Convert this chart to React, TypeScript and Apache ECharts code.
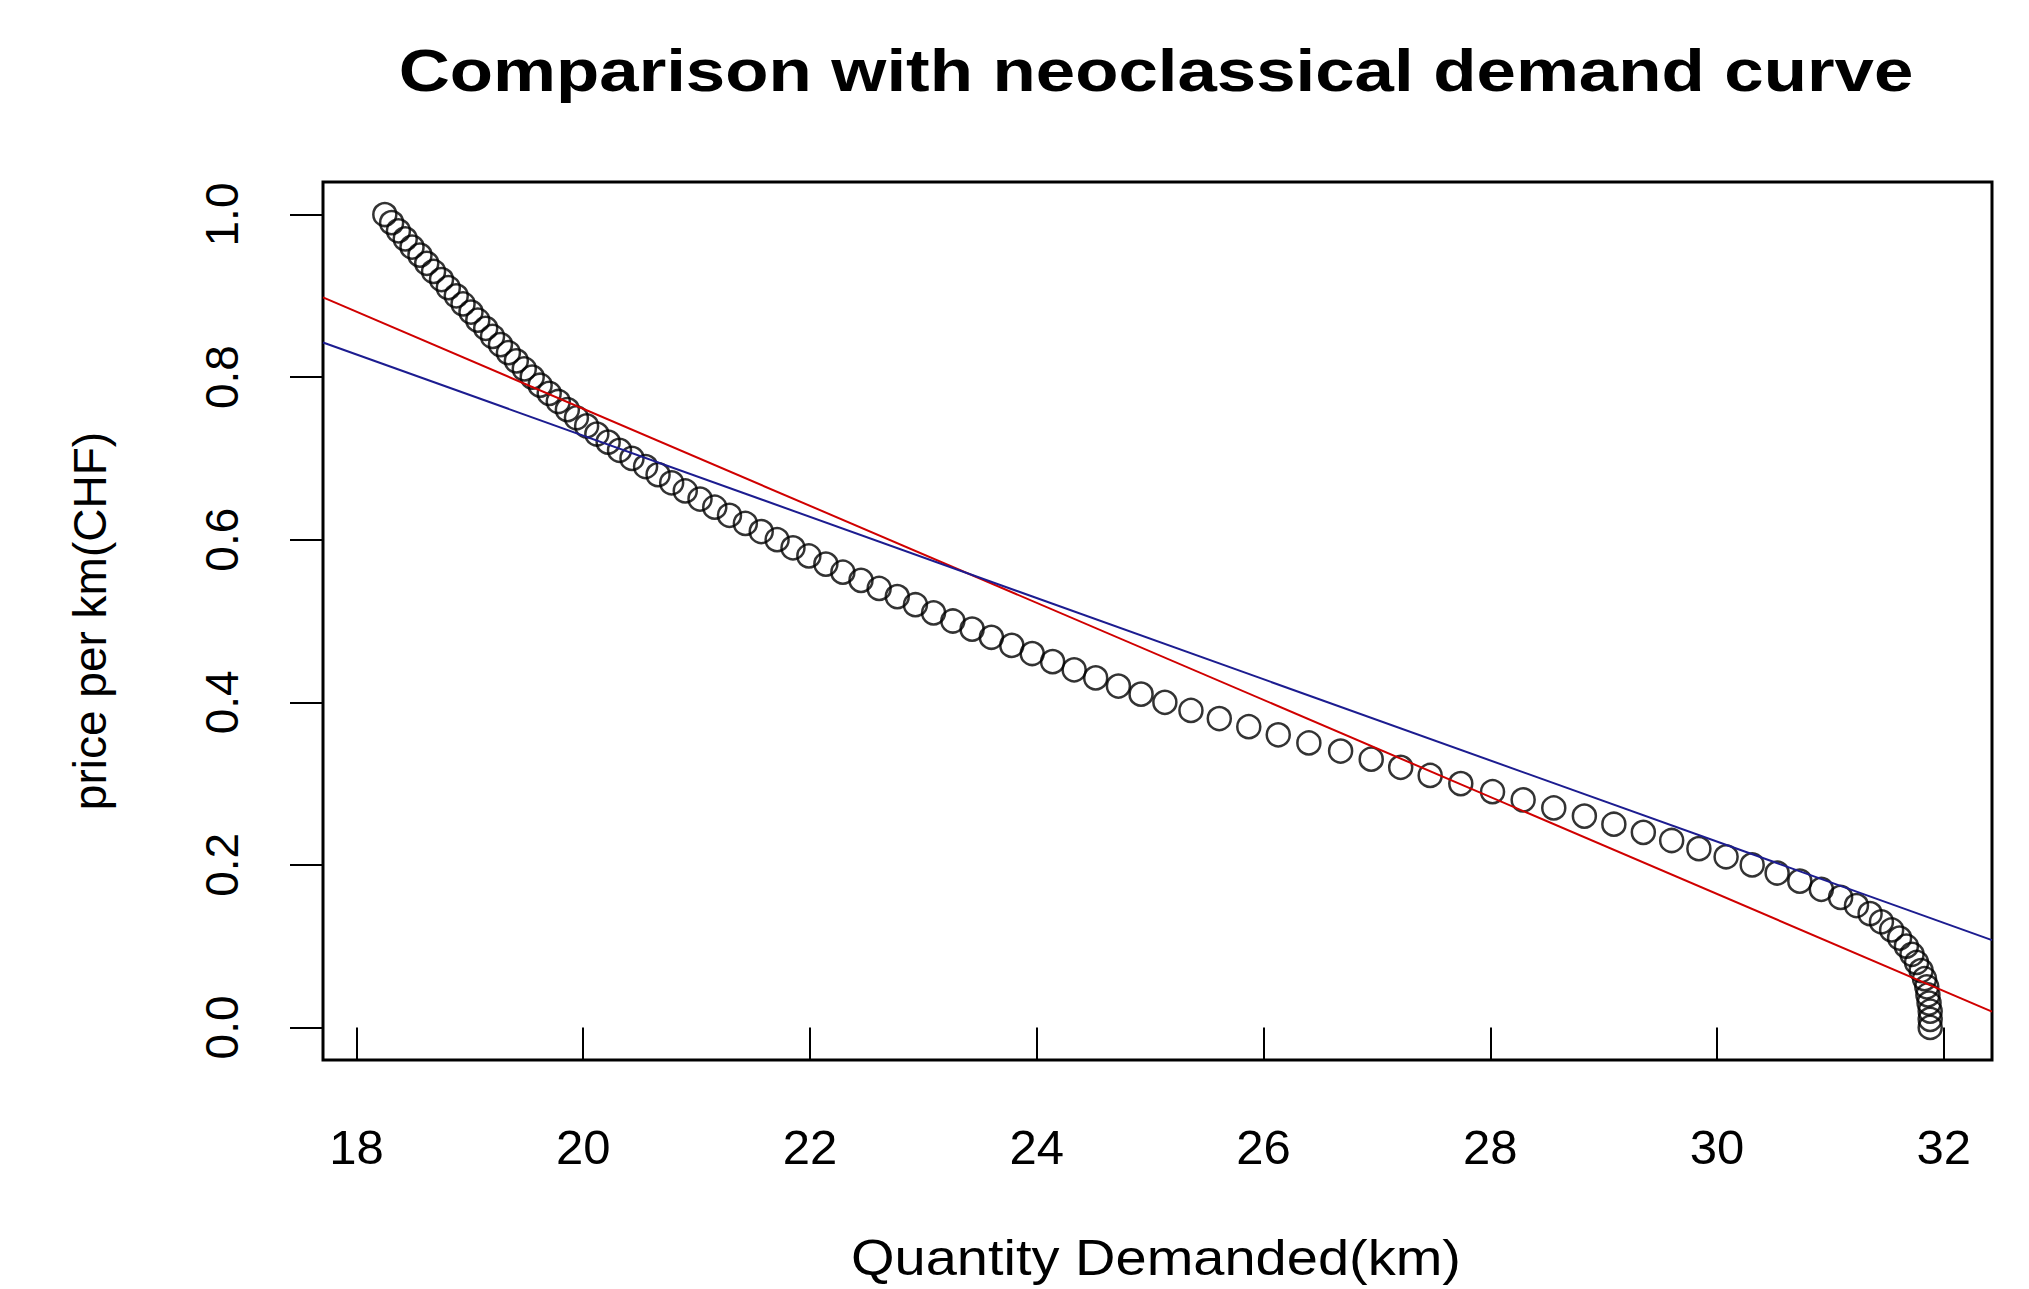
import React, { useEffect, useRef } from "react";
import * as echarts from "echarts";

const TITLE = "Comparison with neoclassical demand curve";
const X_NAME = "Quantity Demanded(km)";
const Y_NAME = "price per km(CHF)";

const X_TICKS = [18, 20, 22, 24, 26, 28, 30, 32];
const Y_TICKS = [0, 0.2, 0.4, 0.6, 0.8, 1.0];

// price per km (CHF)
const price = [
  1.0, 0.99, 0.98, 0.97, 0.96, 0.95, 0.94, 0.93, 0.92, 0.91,
  0.9, 0.89, 0.88, 0.87, 0.86, 0.85, 0.84, 0.83, 0.82, 0.81,
  0.8, 0.79, 0.78, 0.77, 0.76, 0.75, 0.74, 0.73, 0.72, 0.71,
  0.7, 0.69, 0.68, 0.67, 0.66, 0.65, 0.64, 0.63, 0.62, 0.61,
  0.6, 0.59, 0.58, 0.57, 0.56, 0.55, 0.54, 0.53, 0.52, 0.51,
  0.5, 0.49, 0.48, 0.47, 0.46, 0.45, 0.44, 0.43, 0.42, 0.41,
  0.4, 0.39, 0.38, 0.37, 0.36, 0.35, 0.34, 0.33, 0.32, 0.31,
  0.3, 0.29, 0.28, 0.27, 0.26, 0.25, 0.24, 0.23, 0.22, 0.21,
  0.2, 0.19, 0.18, 0.17, 0.16, 0.15, 0.14, 0.13, 0.12, 0.11,
  0.1, 0.09, 0.08, 0.07, 0.06, 0.05, 0.04, 0.03, 0.02, 0.01,
  0.0,
];

// quantity demanded (km)
const quantity = [
  18.25, 18.31, 18.37, 18.43, 18.49, 18.56, 18.62, 18.68, 18.75, 18.81,
  18.88, 18.94, 19.01, 19.07, 19.14, 19.2, 19.27, 19.34, 19.41, 19.48,
  19.55, 19.62, 19.7, 19.78, 19.86, 19.94, 20.03, 20.12, 20.22, 20.32,
  20.43, 20.55, 20.66, 20.78, 20.9, 21.03, 21.16, 21.29, 21.43, 21.57,
  21.71, 21.85, 21.99, 22.14, 22.29, 22.45, 22.61, 22.77, 22.93, 23.09,
  23.26, 23.43, 23.6, 23.78, 23.96, 24.14, 24.33, 24.52, 24.72, 24.92,
  25.13, 25.36, 25.61, 25.87, 26.13, 26.4, 26.68, 26.95, 27.21, 27.47,
  27.74, 28.02, 28.29, 28.56, 28.83, 29.09, 29.35, 29.6, 29.84, 30.08,
  30.31, 30.53, 30.73, 30.92, 31.09, 31.23, 31.35, 31.45, 31.54, 31.61,
  31.67, 31.72, 31.76, 31.8, 31.83, 31.85, 31.86, 31.87, 31.88, 31.88,
  31.88,
];

// fitted straight lines, endpoints at the plot edges
const redLineX = [17.705, 32.425];
const redLineY = [0.898, 0.0195];
const blueLineX = [17.705, 32.425];
const blueLineY = [0.8426, 0.1075];

const FONT = '"Liberation Sans", Arial, Helvetica, sans-serif';

export default function App() {
  const ref = useRef<HTMLDivElement | null>(null);

  useEffect(() => {
    document.body.style.margin = "0";
    if (!ref.current) return;
    const chart = echarts.init(ref.current, undefined, { renderer: "svg" });

    const xMin = Math.min(...quantity);
    const xMax = Math.max(...quantity);
    const xPad = (xMax - xMin) * 0.04;
    const yMin = Math.min(...price);
    const yMax = Math.max(...price);
    const yPad = (yMax - yMin) * 0.04;

    const points = quantity.map((q, i) => [q, price[i]]);

    chart.setOption({
      animation: false,
      backgroundColor: "#ffffff",
      grid: {
        left: 323,
        top: 182,
        width: 1669,
        height: 878,
        show: true,
        borderColor: "#000000",
        borderWidth: 3,
        backgroundColor: "transparent",
      },
      xAxis: {
        type: "value",
        min: xMin - xPad,
        max: xMax + xPad,
        axisLine: { show: false },
        splitLine: { show: false },
        axisTick: {
          show: true,
          length: 33,
          customValues: X_TICKS,
          lineStyle: { color: "#000", width: 2 },
        },
        axisLabel: {
          customValues: X_TICKS,
          margin: 62,
          color: "#000",
          fontSize: 49,
          fontFamily: FONT,
          formatter: (v: number) => String(v),
        },
      },
      yAxis: {
        type: "value",
        min: yMin - yPad,
        max: yMax + yPad,
        axisLine: { show: false },
        splitLine: { show: false },
        axisTick: {
          show: true,
          length: 33,
          customValues: Y_TICKS,
          lineStyle: { color: "#000", width: 2 },
        },
        axisLabel: {
          customValues: Y_TICKS,
          rotate: 90,
          margin: 78,
          color: "#000",
          fontSize: 46,
          fontFamily: FONT,
          formatter: (v: number) => v.toFixed(1),
        },
      },
      graphic: [
        {
          type: "text",
          x: 1156,
          y: 71,
          scaleX: 1.2,
          style: {
            text: TITLE,
            fontSize: 59,
            fontWeight: "bold",
            fontFamily: FONT,
            fill: "#000",
            align: "center",
            verticalAlign: "middle",
          },
        },
        {
          type: "text",
          x: 1156,
          y: 1258,
          scaleX: 1.12,
          style: {
            text: X_NAME,
            fontSize: 50,
            fontFamily: FONT,
            fill: "#000",
            align: "center",
            verticalAlign: "middle",
          },
        },
        {
          type: "text",
          x: 90,
          y: 621,
          rotation: Math.PI / 2,
          style: {
            text: Y_NAME,
            fontSize: 46,
            fontFamily: FONT,
            fill: "#000",
            align: "center",
            verticalAlign: "middle",
          },
        },
      ],
      series: [
        {
          type: "scatter",
          data: points,
          symbol: "circle",
          symbolSize: 23,
          itemStyle: {
            color: "rgba(0,0,0,0)",
            borderColor: "#000",
            borderWidth: 2.5,
          },
          z: 2,
        },
        {
          type: "line",
          data: redLineX.map((x, i) => [x, redLineY[i]]),
          showSymbol: false,
          symbol: "none",
          lineStyle: { color: "#d00000", width: 2 },
          clip: true,
          z: 3,
        },
        {
          type: "line",
          data: blueLineX.map((x, i) => [x, blueLineY[i]]),
          showSymbol: false,
          symbol: "none",
          lineStyle: { color: "#1c1c90", width: 2 },
          clip: true,
          z: 3,
        },
      ],
    });

    return () => {
      chart.dispose();
    };
  }, []);

  return <div ref={ref} style={{ width: 2029, height: 1289 }} />;
}
